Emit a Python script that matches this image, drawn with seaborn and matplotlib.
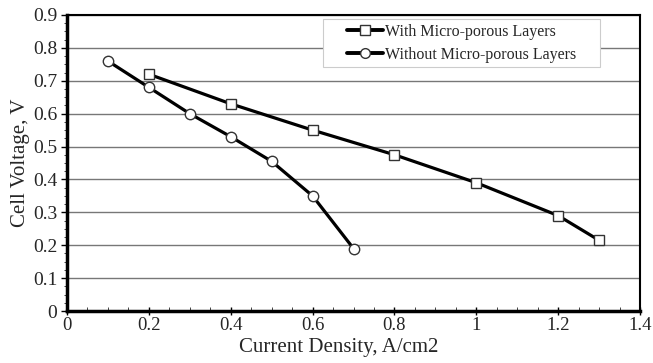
import matplotlib
matplotlib.use("Agg")
import matplotlib.pyplot as plt
import seaborn as sns
import pandas as pd
from matplotlib.ticker import MultipleLocator
from matplotlib.patches import Rectangle

with_x = [0.2, 0.4, 0.6, 0.8, 1.0, 1.2, 1.3]
with_y = [0.72, 0.63, 0.55, 0.475, 0.39, 0.29, 0.215]
without_x = [0.1, 0.2, 0.3, 0.4, 0.5, 0.6, 0.7]
without_y = [0.76, 0.68, 0.60, 0.53, 0.455, 0.35, 0.19]
labels = ["With Micro-porous Layers", "Without Micro-porous Layers"]
x_ticks = [0, 0.2, 0.4, 0.6, 0.8, 1.0, 1.2, 1.4]
x_tick_labels = ["0", "0.2", "0.4", "0.6", "0.8", "1", "1.2", "1.4"]
y_ticks = [0, 0.1, 0.2, 0.3, 0.4, 0.5, 0.6, 0.7, 0.8, 0.9]
y_tick_labels = ["0", "0.1", "0.2", "0.3", "0.4", "0.5", "0.6", "0.7", "0.8", "0.9"]

sns.set_style("white")
plt.rcParams['font.family'] = ['Liberation Serif', 'DejaVu Serif']

df = pd.concat([
    pd.DataFrame({"x": with_x, "y": with_y, "s": labels[0]}),
    pd.DataFrame({"x": without_x, "y": without_y, "s": labels[1]}),
])

W, H = 653, 363
L, R, T, B = 67, 640, 15, 311
fig = plt.figure(figsize=(W/100, H/100), dpi=100)
ax = fig.add_axes([L/W, 1-B/H, (R-L)/W, (B-T)/H])

sns.lineplot(data=df, x="x", y="y", hue="s", style="s",
             markers={labels[0]: "s", labels[1]: "o"}, dashes=False,
             palette={labels[0]: "black", labels[1]: "black"},
             linewidth=2.3, markersize=7.5, markerfacecolor="white",
             markeredgecolor="#333333", markeredgewidth=1.0, ax=ax, zorder=4)

ax.set_xlim(0, 1.4)
ax.set_ylim(0, 0.9)
ax.set_xticks(x_ticks, x_tick_labels)
ax.set_yticks(y_ticks, y_tick_labels)
ax.xaxis.set_minor_locator(MultipleLocator(0.05))
ax.yaxis.set_minor_locator(MultipleLocator(0.025))
ax.grid(axis="y", which="major", color="#777777", linewidth=1.0)
ax.grid(axis="x", visible=False)
for sp in ax.spines.values():
    sp.set_visible(True)
    sp.set_color("black")
    sp.set_linewidth(1.5)
ax.spines["left"].set_linewidth(2.5)
ax.spines["bottom"].set_linewidth(2.5)
ax.tick_params(axis="both", which="major", labelsize=14, length=4, width=1,
               direction="out", color="black", pad=3)
ax.tick_params(axis="x", which="major", direction="inout", length=6, pad=1,
               labelsize=13.5)
ax.tick_params(axis="x", which="minor", direction="in", length=3, width=0.6)
ax.tick_params(axis="y", which="minor", direction="out", length=2.5, width=0.6)
ax.tick_params(axis="x", which="both", bottom=True, top=False)
ax.tick_params(axis="y", which="both", left=True, right=False)
ax.set_xlabel("Current Density, A/cm2", fontsize=15, labelpad=0)
pw, ph = R - L, B - T
ax.xaxis.set_label_coords(0.474, -(338 - B) / ph)
ax.set_ylabel("Cell Voltage, V", fontsize=15, labelpad=2)

# legend frame (Excel-style box with wide padding)
ax.add_patch(Rectangle(((323-L)/pw, 1-(67-T)/ph), (600-323)/pw, (67-19)/ph,
                       transform=ax.transAxes, facecolor="white",
                       edgecolor="#cccccc", linewidth=0.8, zorder=3,
                       clip_on=False))
leg = ax.legend(loc="upper left", bbox_to_anchor=((347-L)/pw, 1-(24-T)/ph),
                fontsize=11.5, frameon=False,
                handlelength=2.25, handletextpad=0.12, borderpad=0,
                labelspacing=0.42, borderaxespad=0)
for h in leg.legend_handles:
    h.set_linewidth(2.8)
    h.set_markerfacecolor("white")
    h.set_markersize(7)

fig.savefig("out.png", dpi=100)
